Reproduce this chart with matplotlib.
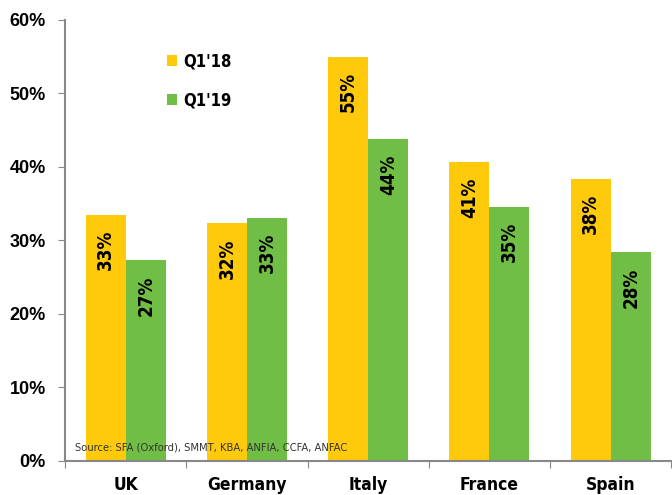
import numpy as np
import matplotlib.pyplot as plt
from matplotlib import font_manager
from matplotlib.font_manager import FontProperties

countries = ["UK", "Germany", "Italy", "France", "Spain"]
q1_18 = [33.5, 32.3, 55.0, 40.6, 38.4]
q1_19 = [27.3, 33.1, 43.8, 34.6, 28.4]
labels_18 = ["33%", "32%", "55%", "41%", "38%"]
labels_19 = ["27%", "33%", "44%", "35%", "28%"]
yticks = [0, 10, 20, 30, 40, 50, 60]

# look for a condensed / narrow face, else fall back to Liberation Sans
bold_c, reg_c = None, None
for f in font_manager.fontManager.ttflist:
    fn = f.fname.lower()
    if "condensed" in fn or "narrow" in fn or str(f.stretch) in ("condensed", "semi-condensed"):
        w = f.weight if isinstance(f.weight, int) else (700 if "bold" in str(f.weight) else 400)
        if "oblique" in fn or "italic" in fn:
            continue
        if w >= 600 and bold_c is None:
            bold_c = f.fname
        elif w < 600 and reg_c is None:
            reg_c = f.fname

def fp(size, bold=True):
    path = bold_c if bold else reg_c
    if path:
        return FontProperties(fname=path, size=size)
    return FontProperties(family="Liberation Sans", weight="bold" if bold else "normal",
                          size=size * 0.85)

yellow = "#FFC90C"
green = "#70BE45"

fig = plt.figure(figsize=(6.72, 4.95), dpi=100)
ax = fig.add_axes([0.097, 0.069, 0.902, 0.891])

x = np.arange(len(countries))
w = 0.33
b1 = ax.bar(x - w / 2, q1_18, w, color=yellow, label="Q1'18")
b2 = ax.bar(x + w / 2, q1_19, w, color=green, label="Q1'19")

for bars, labs in ((b1, labels_18), (b2, labels_19)):
    for r, t in zip(bars, labs):
        ax.annotate(t, (r.get_x() + r.get_width() / 2, r.get_height()),
                    xytext=(0, -11), textcoords="offset points",
                    rotation=90, ha="center", va="top", fontproperties=fp(13.5))

ax.set_xlim(-0.5, len(countries) - 0.5)
ax.set_ylim(0, 60)
ax.set_yticks(yticks)
ax.set_yticklabels([f"{v}%" for v in yticks], family="Liberation Sans",
                   fontsize=13, fontweight="bold")
ax.set_xticks(np.arange(len(countries) + 1) - 0.5)
ax.set_xticklabels([])
ax.set_xticks(x, minor=True)
ax.set_xticklabels(countries, minor=True, fontproperties=fp(12.5))
ax.tick_params(axis="x", which="minor", length=0, pad=11)
ax.tick_params(axis="x", which="major", length=5, color="#888888", direction="out")
ax.tick_params(axis="y", length=5, color="#888888", pad=9)

for s in ("top", "right"):
    ax.spines[s].set_visible(False)
for s in ("left", "bottom"):
    ax.spines[s].set_color("#888888")
    ax.spines[s].set_linewidth(1.5)

ax.legend(loc="upper left", bbox_to_anchor=(0.143, 0.96), frameon=False,
          handlelength=0.62, handleheight=0.62, handletextpad=0.35,
          labelspacing=1.25, prop=fp(12))

ax.text(0.017, 0.02, "Source: SFA (Oxford), SMMT, KBA, ANFIA, CCFA, ANFAC",
        transform=ax.transAxes, fontproperties=fp(8, bold=False), color="#333333",
        ha="left", va="bottom")

fig.savefig("out.png", dpi=100)
